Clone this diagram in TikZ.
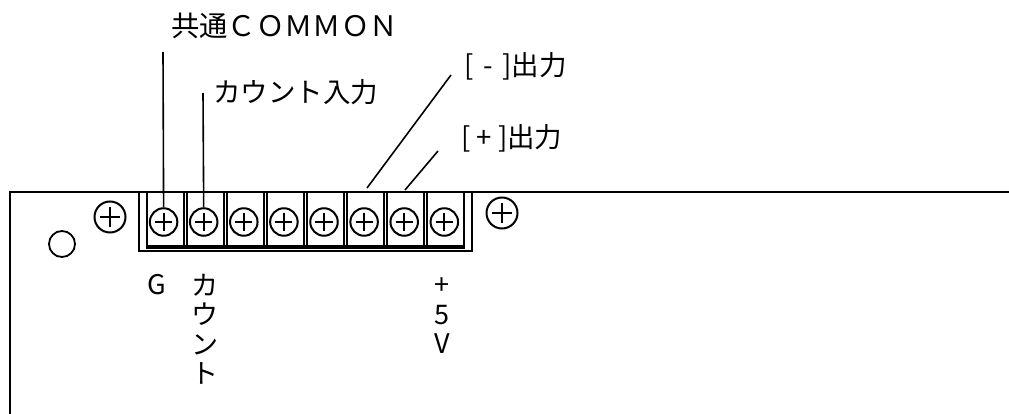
\documentclass[tikz,border=0pt]{standalone}
\usepackage{fontspec}
\setmainfont{Noto Sans CJK JP}
\usetikzlibrary{positioning}
\tikzset{
	screw/.style={circle,draw,line width=2pt,inner sep=0pt,minimum size=#1,path picture={
		\draw[line width=1.8pt] (path picture bounding box.center) ++(-0.31*#1,0) -- ++(0.62*#1,0);
		\draw[line width=1.8pt] (path picture bounding box.center) ++(0,-0.31*#1) -- ++(0,0.62*#1);}},
	cellbox/.style={draw,line width=2pt,inner sep=0pt,minimum width=37pt,minimum height=55pt},
	leader/.style={line width=1.6pt},
	label/.style={inner sep=0pt,font=\fontsize{27.5}{32}\selectfont,anchor=west},
	stack/.style={inner sep=0pt,align=center,font=\fontsize{27}{29.5}\selectfont,anchor=north}
}
\begin{document}
\begin{tikzpicture}[x=1pt,y=-1pt]
	\useasboundingbox (0,0) rectangle (1009,414);
	% board outline
	\draw[line width=1.5pt] (10,414) -- (10,192) -- (139,192);
	\draw[line width=1.5pt] (472,192) -- (1009,192);
	\node[circle,draw,line width=1.8pt,minimum size=26pt,inner sep=0pt] (hole) at (62,244) {};
	\node[screw=31pt] (fixl) at (110,217) {};
	\node[screw=31pt] (fixr) at (502,213) {};
	% terminal block
	\draw[line width=1.5pt] (139,192) rectangle (472,251);
	\foreach \i in {1,...,8} {
		\node[cellbox] (cell\i) at ({125.5+40*\i},220) {};
		\node[screw=27.5pt] (term\i) at ({123.5+40.1*\i},222) {};
	}
	\draw[line width=4pt] ([yshift=1.5pt]cell1.south west) -- ([yshift=1.5pt]cell8.south east);
	% leaders
	\coordinate (comtop) at (163,52);
	\coordinate (cnttop) at (203,93);
	\coordinate (negtop) at (451,75);
	\coordinate (negend) at (367,188);
	\coordinate (postop) at (438,151);
	\coordinate (posend) at (405,190);
	\draw[leader] (comtop) -- (term1.north);
	\draw[leader] (cnttop) -- (term2.north);
	\draw[leader] (negtop) -- (negend);
	\draw[leader] (postop) -- (posend);
	% labels
	\node[label,font=\fontsize{28.3}{32}\selectfont] (comlabel) at (171,26) {共通^^^^ff23^^^^ff2f^^^^ff2d^^^^ff2d^^^^ff2f^^^^ff2e};
	\node[label] (cntlabel) at (213,92) {カウント入力};
	\node[label] (neglabel) at (464,66) {[\kern3.5pt{} - \kern3.5pt{}]出力};
	\node[label] (poslabel) at (461,138) {[ + ]出力};
	\node[stack] (glabel) at (157,274) {G};
	\node[stack] (cntstack) at (204.5,274) {カ\\ウ\\ン\\ト};
	\node[stack] (fivev) at (442,278) {+\\5\\V};
\end{tikzpicture}
\end{document}
